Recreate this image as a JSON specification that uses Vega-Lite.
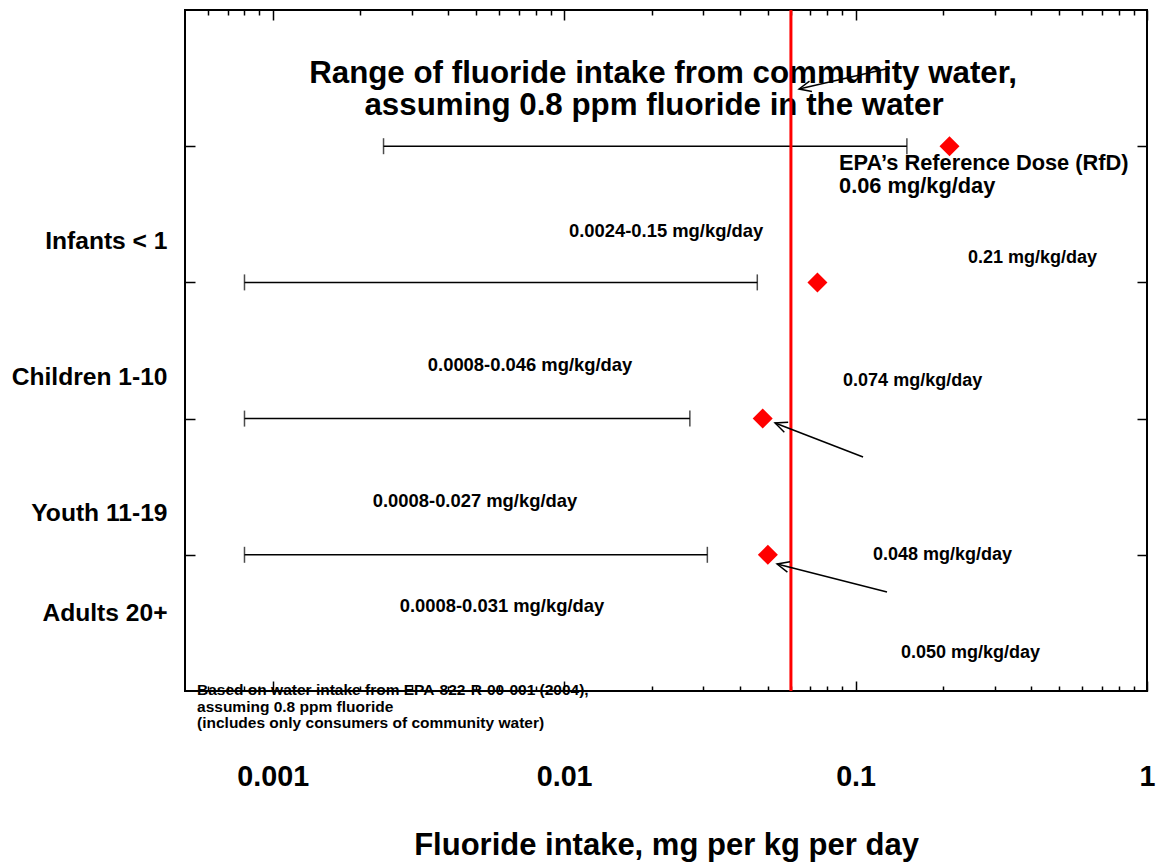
{
  "$schema": "https://vega.github.io/schema/vega-lite/v6.json",
  "width": 962,
  "height": 681,
  "autosize": {"type": "none"},
  "padding": {"left": 185, "top": 10, "right": 14, "bottom": 172},
  "background": "white",
  "config": {
    "font": "Liberation Sans",
    "view": {"stroke": "black", "strokeWidth": 2},
    "axis": {"domain": false, "grid": false, "tickColor": "black", "tickWidth": 1.5, "labelColor": "black", "labelFont": "Liberation Sans", "labelFontWeight": "bold", "titleColor": "black", "titleFont": "Liberation Sans", "titleFontWeight": "bold"}
  },
  "datasets": {
    "groups": [
      {"row": 1, "group": "Infants < 1", "low": 0.0024, "high": 0.15, "intake": 0.21},
      {"row": 2, "group": "Children 1-10", "low": 0.0008, "high": 0.046, "intake": 0.074},
      {"row": 3, "group": "Youth 11-19", "low": 0.0008, "high": 0.027, "intake": 0.048},
      {"row": 4, "group": "Adults 20+", "low": 0.0008, "high": 0.031, "intake": 0.050}
    ],
    "rfd": [{"rfd": 0.06}],
    "title": [
      {"x": 0.02184, "y": 0.536, "text": "Range of fluoride intake from community water,"},
      {"x": 0.02034, "y": 0.771, "text": "assuming 0.8 ppm fluoride in the water"}
    ],
    "epa": [
      {"x": 0.08776, "y": 1.175, "text": "EPA’s Reference Dose (RfD)"},
      {"x": 0.08776, "y": 1.342, "text": "0.06 mg/kg/day"}
    ],
    "rangeLabels": [
      {"x": 0.02237, "y": 1.664, "text": "0.0024-0.15 mg/kg/day"},
      {"x": 0.007638, "y": 2.651, "text": "0.0008-0.046 mg/kg/day"},
      {"x": 0.004944, "y": 3.649, "text": "0.0008-0.027 mg/kg/day"},
      {"x": 0.006119, "y": 4.420, "text": "0.0008-0.031 mg/kg/day"}
    ],
    "intakeLabels": [
      {"x": 0.2432, "y": 1.858, "text": "0.21 mg/kg/day"},
      {"x": 0.0906, "y": 2.761, "text": "0.074 mg/kg/day"},
      {"x": 0.1148, "y": 4.038, "text": "0.048 mg/kg/day"},
      {"x": 0.1432, "y": 4.758, "text": "0.050 mg/kg/day"}
    ],
    "note": [
      {"x": 0.0005498, "y": 5.030, "text": "Based on water intake from  EPA-822-R-00-001 (2004),\nassuming 0.8 ppm fluoride\n(includes only consumers of community water)"}
    ],
    "arrows": [
      {"id": 1, "x": 0.1313, "y": 0.426, "x2": 0.06398, "y2": 0.580},
      {"id": 2, "x": 0.1061, "y": 3.282, "x2": 0.05293, "y2": 3.032},
      {"id": 3, "x": 0.1282, "y": 4.273, "x2": 0.05378, "y2": 4.068}
    ]
  },
  "encoding": {
    "x": {"field": "x", "type": "quantitative", "scale": {"type": "log", "domain": [0.0005, 1]}, "axis": null},
    "y": {"field": "y", "type": "quantitative", "scale": {"domain": [0, 5], "reverse": true}, "axis": null}
  },
  "layer": [
    {
      "data": {"name": "groups"},
      "mark": {"type": "rule", "color": "black", "strokeWidth": 1.5},
      "encoding": {
        "x": {
          "field": "low", "type": "quantitative",
          "scale": {"type": "log", "domain": [0.0005, 1]},
          "axis": {
            "orient": "bottom",
            "values": [0.0006, 0.0007, 0.0008, 0.0009, 0.001, 0.002, 0.003, 0.004, 0.005, 0.006, 0.007, 0.008, 0.009, 0.01, 0.02, 0.03, 0.04, 0.05, 0.06, 0.07, 0.08, 0.09, 0.1, 0.2, 0.3, 0.4, 0.5, 0.6, 0.7, 0.8, 0.9, 1],
            "labelExpr": "abs(log(datum.value)/LN10 - round(log(datum.value)/LN10)) < 0.001 ? toString(datum.value) : ''",
            "tickSize": {"condition": {"test": "abs(log(datum.value)/LN10 - round(log(datum.value)/LN10)) < 0.001", "value": -10}, "value": -5},
            "labelFontSize": 28.7,
            "labelBaseline": "alphabetic",
            "labelPadding": 104,
            "labelOverlap": false,
            "labelFlush": false,
            "title": "Fluoride intake, mg per kg per day",
            "titleFontSize": 31,
            "titleY": 163,
            "titleBaseline": "alphabetic"
          }
        },
        "x2": {"field": "high"},
        "y": {
          "field": "row", "type": "quantitative",
          "scale": {"domain": [0, 5], "reverse": true},
          "axis": {
            "orient": "left",
            "values": [1, 2, 3, 4],
            "tickSize": -10,
            "labelExpr": "datum.value == 1 ? 'Infants < 1' : datum.value == 2 ? 'Children 1-10' : datum.value == 3 ? 'Youth 11-19' : 'Adults 20+'",
            "labelFontSize": 24.6,
            "labelPadding": 28,
            "labelOffset": {"condition": {"test": "datum.value == 4", "value": 59}, "value": 95},
            "title": null
          }
        }
      }
    },
    {
      "data": {"name": "groups"},
      "transform": [{"fold": ["low", "high"], "as": ["end", "value"]}],
      "mark": {"type": "tick", "orient": "vertical", "color": "black", "size": 16, "thickness": 1.5},
      "encoding": {
        "x": {
          "field": "value", "type": "quantitative",
          "scale": {"type": "log", "domain": [0.0005, 1]},
          "axis": {
            "orient": "top",
            "values": [0.0006, 0.0007, 0.0008, 0.0009, 0.001, 0.002, 0.003, 0.004, 0.005, 0.006, 0.007, 0.008, 0.009, 0.01, 0.02, 0.03, 0.04, 0.05, 0.06, 0.07, 0.08, 0.09, 0.1, 0.2, 0.3, 0.4, 0.5, 0.6, 0.7, 0.8, 0.9, 1],
            "tickSize": {"condition": {"test": "abs(log(datum.value)/LN10 - round(log(datum.value)/LN10)) < 0.001", "value": -10}, "value": -5},
            "labels": false,
            "title": null
          }
        },
        "y": {
          "field": "row", "type": "quantitative",
          "scale": {"domain": [0, 5], "reverse": true},
          "axis": {"orient": "right", "values": [1, 2, 3, 4], "tickSize": -10, "labels": false, "title": null}
        }
      }
    },
    {
      "data": {"name": "title"},
      "mark": {"type": "text", "align": "center", "baseline": "alphabetic", "fontSize": 31.3, "fontWeight": "bold", "color": "black"},
      "encoding": {"text": {"field": "text"}}
    },
    {
      "data": {"name": "epa"},
      "mark": {"type": "text", "align": "left", "baseline": "alphabetic", "fontSize": 21.8, "fontWeight": "bold", "color": "black"},
      "encoding": {"text": {"field": "text"}}
    },
    {
      "data": {"name": "rangeLabels"},
      "mark": {"type": "text", "align": "center", "baseline": "alphabetic", "fontSize": 18.4, "fontWeight": "bold", "color": "black"},
      "encoding": {"text": {"field": "text"}}
    },
    {
      "data": {"name": "intakeLabels"},
      "mark": {"type": "text", "align": "left", "baseline": "alphabetic", "fontSize": 18, "fontWeight": "bold", "color": "black"},
      "encoding": {"text": {"field": "text"}}
    },
    {
      "data": {"name": "note"},
      "mark": {"type": "text", "align": "left", "baseline": "alphabetic", "fontSize": 15.5, "fontWeight": "bold", "color": "black", "lineBreak": "\n", "lineHeight": 16.5},
      "encoding": {"text": {"field": "text"}}
    },
    {
      "data": {"name": "rfd"},
      "mark": {"type": "rule", "color": "#ff0000", "strokeWidth": 3},
      "encoding": {
        "x": {"field": "rfd", "type": "quantitative", "scale": {"type": "log", "domain": [0.0005, 1]}, "axis": null},
        "y": null
      }
    },
    {
      "data": {"name": "groups"},
      "mark": {"type": "point", "shape": "diamond", "filled": true, "color": "#ff0000", "size": 400, "opacity": 1},
      "encoding": {
        "x": {"field": "intake", "type": "quantitative", "scale": {"type": "log", "domain": [0.0005, 1]}, "axis": null},
        "y": {"field": "row", "type": "quantitative", "scale": {"domain": [0, 5], "reverse": true}, "axis": null}
      }
    },
    {
      "data": {"name": "arrows"},
      "mark": {"type": "rule", "color": "black", "strokeWidth": 1.5},
      "encoding": {
        "x2": {"field": "x2"},
        "y2": {"field": "y2"}
      }
    },
    {
      "data": {"name": "arrows"},
      "transform": [{"filter": "datum.id == 1"}],
      "mark": {"type": "point", "shape": "M1,-0.45L0,0L1,0.45", "filled": false, "stroke": "black", "strokeWidth": 1.5, "size": 576, "angle": 347, "opacity": 1},
      "encoding": {
        "x": {"field": "x2", "type": "quantitative", "scale": {"type": "log", "domain": [0.0005, 1]}, "axis": null},
        "y": {"field": "y2", "type": "quantitative", "scale": {"domain": [0, 5], "reverse": true}, "axis": null}
      }
    },
    {
      "data": {"name": "arrows"},
      "transform": [{"filter": "datum.id == 2"}],
      "mark": {"type": "point", "shape": "M1,-0.45L0,0L1,0.45", "filled": false, "stroke": "black", "strokeWidth": 1.5, "size": 576, "angle": 21, "opacity": 1},
      "encoding": {
        "x": {"field": "x2", "type": "quantitative", "scale": {"type": "log", "domain": [0.0005, 1]}, "axis": null},
        "y": {"field": "y2", "type": "quantitative", "scale": {"domain": [0, 5], "reverse": true}, "axis": null}
      }
    },
    {
      "data": {"name": "arrows"},
      "transform": [{"filter": "datum.id == 3"}],
      "mark": {"type": "point", "shape": "M1,-0.45L0,0L1,0.45", "filled": false, "stroke": "black", "strokeWidth": 1.5, "size": 576, "angle": 14, "opacity": 1},
      "encoding": {
        "x": {"field": "x2", "type": "quantitative", "scale": {"type": "log", "domain": [0.0005, 1]}, "axis": null},
        "y": {"field": "y2", "type": "quantitative", "scale": {"domain": [0, 5], "reverse": true}, "axis": null}
      }
    }
  ],
  "resolve": {"axis": {"x": "independent", "y": "independent"}}
}
